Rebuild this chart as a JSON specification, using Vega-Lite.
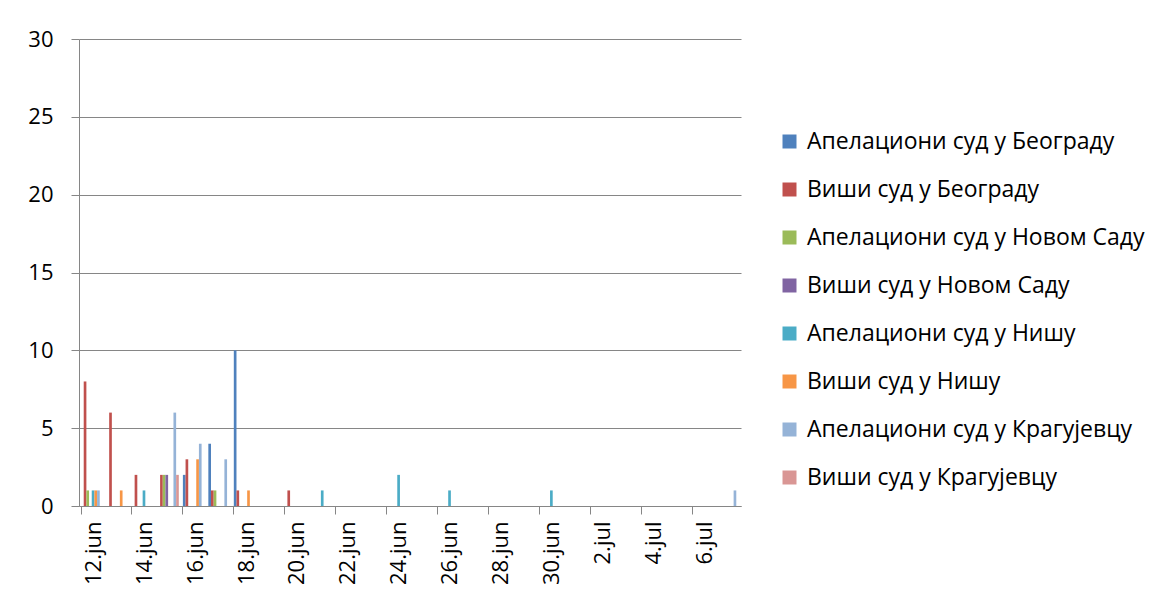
{
  "$schema": "https://vega.github.io/schema/vega-lite/v6.json",
  "width": 662,
  "height": 467,
  "autosize": {"type": "none"},
  "padding": {"left": 79, "top": 39, "right": 423, "bottom": 94},
  "background": "white",
  "config": {
    "view": {"stroke": null},
    "font": "Open Sans",
    "axis": {"labelFont": "Open Sans", "labelFontSize": 22, "labelColor": "#000000", "domainColor": "#868686", "tickColor": "#868686", "gridColor": "#868686", "tickSize": 8, "title": null}
  },
  "data": {
    "values": [
      {"date": "12.jun", "court": "Виши суд у Београду", "count": 8},
      {"date": "12.jun", "court": "Апелациони суд у Новом Саду", "count": 1},
      {"date": "12.jun", "court": "Апелациони суд у Нишу", "count": 1},
      {"date": "12.jun", "court": "Виши суд у Нишу", "count": 1},
      {"date": "12.jun", "court": "Апелациони суд у Крагујевцу", "count": 1},
      {"date": "13.jun", "court": "Виши суд у Београду", "count": 6},
      {"date": "13.jun", "court": "Виши суд у Нишу", "count": 1},
      {"date": "14.jun", "court": "Виши суд у Београду", "count": 2},
      {"date": "14.jun", "court": "Апелациони суд у Нишу", "count": 1},
      {"date": "15.jun", "court": "Виши суд у Београду", "count": 2},
      {"date": "15.jun", "court": "Апелациони суд у Новом Саду", "count": 2},
      {"date": "15.jun", "court": "Виши суд у Новом Саду", "count": 2},
      {"date": "15.jun", "court": "Апелациони суд у Крагујевцу", "count": 6},
      {"date": "15.jun", "court": "Виши суд у Крагујевцу", "count": 2},
      {"date": "16.jun", "court": "Апелациони суд у Београду", "count": 2},
      {"date": "16.jun", "court": "Виши суд у Београду", "count": 3},
      {"date": "16.jun", "court": "Виши суд у Нишу", "count": 3},
      {"date": "16.jun", "court": "Апелациони суд у Крагујевцу", "count": 4},
      {"date": "17.jun", "court": "Апелациони суд у Београду", "count": 4},
      {"date": "17.jun", "court": "Виши суд у Београду", "count": 1},
      {"date": "17.jun", "court": "Апелациони суд у Новом Саду", "count": 1},
      {"date": "17.jun", "court": "Апелациони суд у Крагујевцу", "count": 3},
      {"date": "18.jun", "court": "Апелациони суд у Београду", "count": 10},
      {"date": "18.jun", "court": "Виши суд у Београду", "count": 1},
      {"date": "18.jun", "court": "Виши суд у Нишу", "count": 1},
      {"date": "20.jun", "court": "Виши суд у Београду", "count": 1},
      {"date": "21.jun", "court": "Апелациони суд у Нишу", "count": 1},
      {"date": "24.jun", "court": "Апелациони суд у Нишу", "count": 2},
      {"date": "26.jun", "court": "Апелациони суд у Нишу", "count": 1},
      {"date": "30.jun", "court": "Апелациони суд у Нишу", "count": 1},
      {"date": "7.jul", "court": "Апелациони суд у Крагујевцу", "count": 1}
    ]
  },
  "mark": {"type": "bar"},
  "encoding": {
    "x": {
      "field": "date",
      "type": "nominal",
      "sort": null,
      "scale": {
        "domain": ["12.jun","13.jun","14.jun","15.jun","16.jun","17.jun","18.jun","19.jun","20.jun","21.jun","22.jun","23.jun","24.jun","25.jun","26.jun","27.jun","28.jun","29.jun","30.jun","1.jul","2.jul","3.jul","4.jul","5.jul","6.jul","7.jul"],
        "paddingInner": 0.16,
        "paddingOuter": 0.08
      },
      "axis": {
        "values": ["12.jun","14.jun","16.jun","18.jun","20.jun","22.jun","24.jun","26.jun","28.jun","30.jun","2.jul","4.jul","6.jul"],
        "bandPosition": 0,
        "labelAngle": -90,
        "labelAlign": "right",
        "labelBaseline": "middle",
        "labelPadding": 7,
        "labelOffset": 2,
        "grid": false
      }
    },
    "xOffset": {
      "field": "court",
      "type": "nominal",
      "scale": {
        "domain": ["Апелациони суд у Београду","Виши суд у Београду","Апелациони суд у Новом Саду","Виши суд у Новом Саду","Апелациони суд у Нишу","Виши суд у Нишу","Апелациони суд у Крагујевцу","Виши суд у Крагујевцу"],
        "paddingInner": 0,
        "paddingOuter": 0
      }
    },
    "y": {
      "field": "count",
      "type": "quantitative",
      "scale": {"domain": [0, 30]},
      "axis": {"values": [0,5,10,15,20,25,30], "grid": true, "labelPadding": 18}
    },
    "color": {
      "field": "court",
      "type": "nominal",
      "scale": {
        "domain": ["Апелациони суд у Београду","Виши суд у Београду","Апелациони суд у Новом Саду","Виши суд у Новом Саду","Апелациони суд у Нишу","Виши суд у Нишу","Апелациони суд у Крагујевцу","Виши суд у Крагујевцу"],
        "range": ["#4F81BD","#C0504D","#9BBB59","#8064A2","#4BACC6","#F79646","#95B3D7","#D99694"]
      },
      "legend": {
        "title": null,
        "orient": "none",
        "legendX": 699,
        "legendY": 91,
        "padding": 0,
        "symbolType": "square",
        "symbolSize": 196,
        "symbolStrokeWidth": 0,
        "labelFont": "Open Sans",
        "labelFontSize": 23,
        "labelColor": "#000000",
        "labelOffset": 6,
        "rowPadding": 24,
        "labelLimit": 400
      }
    }
  }
}
